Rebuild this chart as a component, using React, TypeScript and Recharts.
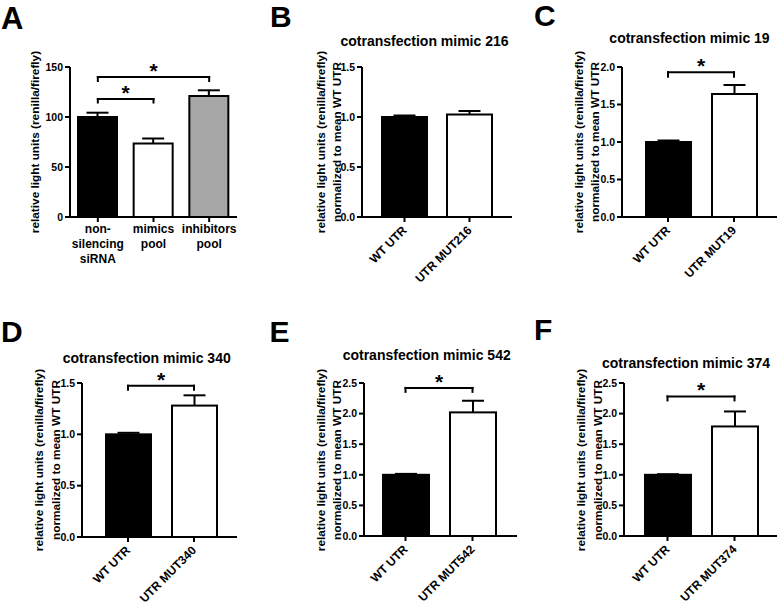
import React from 'react';
import { BarChart, Bar, XAxis, YAxis, Cell, ReferenceLine } from 'recharts';

const FONT = '"Liberation Sans", Arial, Helvetica, sans-serif';

// panel A
const categoriesA = ['non-silencing siRNA', 'mimics pool', 'inhibitors pool'];
const tickLinesA = [['non-', 'silencing', 'siRNA'], ['mimics', 'pool'], ['inhibitors', 'pool']];
const valuesA = [100, 73.5, 121];
const errorsA = [4.3, 5, 5.7];
const fillsA = ['#000000', '#ffffff', '#a6a6a6'];
const ticksA = [0, 50, 100, 150];

// panels B-F
const fillsWT = ['#000000', '#ffffff'];
const categoriesB = ['WT UTR', 'UTR MUT216'];
const valuesB = [1.0, 1.025];
const errorsB = [0.015, 0.035];
const categoriesC = ['WT UTR', 'UTR MUT19'];
const valuesC = [1.0, 1.64];
const errorsC = [0.02, 0.12];
const categoriesD = ['WT UTR', 'UTR MUT340'];
const valuesD = [1.0, 1.28];
const errorsD = [0.015, 0.1];
const categoriesE = ['WT UTR', 'UTR MUT542'];
const valuesE = [1.0, 2.02];
const errorsE = [0.015, 0.19];
const categoriesF = ['WT UTR', 'UTR MUT374'];
const valuesF = [1.0, 1.79];
const errorsF = [0.01, 0.245];

const ticks15 = [0, 0.5, 1.0, 1.5];
const ticks20 = [0, 0.5, 1.0, 1.5, 2.0];
const ticks25 = [0, 0.5, 1.0, 1.5, 2.0, 2.5];

interface Bracket { from: string; to: string; y: number; drop: number }

const bracketsA: Bracket[] = [
  { from: categoriesA[0], to: categoriesA[1], y: 118, drop: 3.5 },
  { from: categoriesA[0], to: categoriesA[2], y: 140, drop: 4 },
];
const bracketsC: Bracket[] = [{ from: categoriesC[0], to: categoriesC[1], y: 1.93, drop: 0.06 }];
const bracketsD: Bracket[] = [{ from: categoriesD[0], to: categoriesD[1], y: 1.474, drop: 0.04 }];
const bracketsE: Bracket[] = [{ from: categoriesE[0], to: categoriesE[1], y: 2.42, drop: 0.065 }];
const bracketsF: Bracket[] = [{ from: categoriesF[0], to: categoriesF[1], y: 2.28, drop: 0.065 }];

const makeRows = (cats: string[], vals: number[], errs: number[], fills: string[]) =>
  cats.map((name, i) => ({ name, value: vals[i], err: errs[i], fill: fills[i] }));

// bar outline plus an upward-only error bar (SEM) with a cap
const BarWithError = (props: any) => {
  const { x, y, width, height, payload } = props;
  const pxPerUnit = payload.value ? height / payload.value : 0;
  const top = y - payload.err * pxPerUnit;
  const cx = x + width / 2;
  return (
    <g>
      <line x1={cx} y1={y} x2={cx} y2={top} stroke="#000" strokeWidth={2} />
      <line x1={cx - 11} y1={top} x2={cx + 11} y2={top} stroke="#000" strokeWidth={2} />
      <rect x={x} y={y} width={width} height={height} fill={payload.fill} stroke="#000" strokeWidth={2} />
    </g>
  );
};

const MultiLineTick = ({ x, y, payload }: any) => {
  const idx = categoriesA.indexOf(payload.value);
  const lines = tickLinesA[idx] || [payload.value];
  return (
    <text x={x} y={y} textAnchor="middle" fontSize={12} fontWeight={700} fontFamily={FONT} fill="#000">
      {lines.map((l, i) => (
        <tspan key={i} x={x} y={y + 9 + i * 15}>{l}</tspan>
      ))}
    </text>
  );
};

const SlantTick = ({ x, y, payload }: any) => (
  <g transform={`translate(${x + 3},${y + 7})`}>
    <text transform="rotate(-45)" textAnchor="end" fontSize={12} fontWeight={700} fontFamily={FONT} fill="#000">
      {payload.value}
    </text>
  </g>
);

interface PanelProps {
  box: [number, number, number, number];
  plot: [number, number, number, number];
  padding: [number, number];
  barSize: number;
  rows: any[];
  max: number;
  ticks: number[];
  decimals: number;
  brackets: Bracket[];
  tick: any;
}

function Panel({ box, plot, padding, barSize, rows, max, ticks, decimals, brackets, tick }: PanelProps) {
  const [left, top, width, height] = box;
  const [x0, y0, x1, y1] = plot;
  const axisStyle = { stroke: '#000', strokeWidth: 2 };
  const seg = { stroke: '#000', strokeWidth: 2, strokeLinecap: 'square' as const };
  return (
    <div style={{ position: 'absolute', left, top }}>
      <BarChart
        width={width}
        height={height}
        data={rows}
        margin={{ top: y0 - top, right: left + width - x1, bottom: 0, left: 0 }}
      >
        <XAxis
          dataKey="name"
          interval={0}
          height={top + height - y1}
          padding={{ left: padding[0], right: padding[1] }}
          axisLine={axisStyle}
          tickLine={axisStyle}
          tickSize={5}
          tick={tick}
        />
        <YAxis
          width={x0 - left}
          domain={[0, max]}
          ticks={ticks}
          interval={0}
          tickFormatter={(v: number) => v.toFixed(decimals)}
          axisLine={axisStyle}
          tickLine={axisStyle}
          tickSize={5}
          tickMargin={2}
          tick={{ fill: '#000', fontSize: 10.5, fontWeight: 700, fontFamily: FONT }}
        />
        <Bar dataKey="value" barSize={barSize} isAnimationActive={false} shape={<BarWithError />}>
          {rows.map((r, i) => (
            <Cell key={i} fill={r.fill} />
          ))}
        </Bar>
        {brackets.map((b, i) => (
          <ReferenceLine
            key={`h${i}`}
            segment={[{ x: b.from, y: b.y }, { x: b.to, y: b.y }]}
            {...seg}
            label={{ value: '*', position: 'top', offset: -1, fontSize: 21, fontWeight: 700, fill: '#000', fontFamily: FONT }}
          />
        ))}
        {brackets.map((b, i) => (
          <ReferenceLine key={`l${i}`} segment={[{ x: b.from, y: b.y }, { x: b.from, y: b.y - b.drop }]} {...seg} />
        ))}
        {brackets.map((b, i) => (
          <ReferenceLine key={`r${i}`} segment={[{ x: b.to, y: b.y }, { x: b.to, y: b.y - b.drop }]} {...seg} />
        ))}
      </BarChart>
    </div>
  );
}

const yLine1 = 'relative light units (renilla/firefly)';
const yLine2 = 'normalized to mean WT UTR';

const YLabel = ({ x, y, text }: { x: number; y: number; text: string }) => (
  <text x={x} y={y} transform={`rotate(-90 ${x} ${y})`} textAnchor="middle" fontSize={11.8} fontWeight={700} fontFamily={FONT} fill="#000">
    {text}
  </text>
);

const Title = ({ x, y, text }: { x: number; y: number; text: string }) => (
  <text x={x} y={y} textAnchor="middle" fontSize={14} fontWeight={700} fontFamily={FONT} fill="#000">
    {text}
  </text>
);

const Letter = ({ x, y, text, size = 30 }: { x: number; y: number; text: string; size?: number }) => (
  <text x={x} y={y} fontSize={size} fontWeight={700} fontFamily={FONT} fill="#000">
    {text}
  </text>
);

export default function App() {
  return (
    <div style={{ position: 'absolute', left: 0, top: 0, width: 778, height: 605, background: '#fff', overflow: 'hidden' }}>
      <Panel box={[0, 0, 240, 300]} plot={[70, 67, 237, 217]} padding={[0, 0]} barSize={39}
        rows={makeRows(categoriesA, valuesA, errorsA, fillsA)} max={150} ticks={ticksA} decimals={0}
        brackets={bracketsA} tick={<MultiLineTick />} />
      <Panel box={[260, 0, 255, 300]} plot={[362, 67, 512, 217]} padding={[10, 10]} barSize={45}
        rows={makeRows(categoriesB, valuesB, errorsB, fillsWT)} max={1.5} ticks={ticks15} decimals={1}
        brackets={[]} tick={<SlantTick />} />
      <Panel box={[518, 0, 260, 300]} plot={[622, 67, 777, 217]} padding={[13, 10]} barSize={45}
        rows={makeRows(categoriesC, valuesC, errorsC, fillsWT)} max={2} ticks={ticks20} decimals={1}
        brackets={bracketsC} tick={<SlantTick />} />
      <Panel box={[0, 300, 240, 305]} plot={[82, 383, 237, 537]} padding={[13, 10]} barSize={45}
        rows={makeRows(categoriesD, valuesD, errorsD, fillsWT)} max={1.5} ticks={ticks15} decimals={1}
        brackets={bracketsD} tick={<SlantTick />} />
      <Panel box={[260, 300, 258, 305]} plot={[364, 383, 517, 536]} padding={[8, 11]} barSize={46}
        rows={makeRows(categoriesE, valuesE, errorsE, fillsWT)} max={2.5} ticks={ticks25} decimals={1}
        brackets={bracketsE} tick={<SlantTick />} />
      <Panel box={[518, 300, 260, 305]} plot={[624, 383, 777, 536]} padding={[10, 9]} barSize={46}
        rows={makeRows(categoriesF, valuesF, errorsF, fillsWT)} max={2.5} ticks={ticks25} decimals={1}
        brackets={bracketsF} tick={<SlantTick />} />

      <svg width={778} height={605} style={{ position: 'absolute', left: 0, top: 0, pointerEvents: 'none' }}>
        <Letter x={1} y={28.5} text="A" size={31} />
        <Letter x={270} y={26.5} text="B" />
        <Letter x={534} y={26} text="C" />
        <Letter x={1} y={342} text="D" />
        <Letter x={269.5} y={341.5} text="E" />
        <Letter x={534} y={340} text="F" />

        <Title x={424.5} y={45.5} text="cotransfection mimic 216" />
        <Title x={689.5} y={43} text="cotransfection mimic 19" />
        <Title x={146.7} y={363} text="cotransfection mimic 340" />
        <Title x={426.7} y={360} text="cotransfection mimic 542" />
        <Title x={686} y={368} text="cotransfection mimic 374" />

        <YLabel x={38.5} y={142} text={yLine1} />
        <YLabel x={324.5} y={142} text={yLine1} />
        <YLabel x={341} y={142} text={yLine2} />
        <YLabel x={582.5} y={142} text={yLine1} />
        <YLabel x={599} y={142} text={yLine2} />
        <YLabel x={42.5} y={460} text={yLine1} />
        <YLabel x={59.5} y={460} text={yLine2} />
        <YLabel x={324.5} y={460} text={yLine1} />
        <YLabel x={341} y={460} text={yLine2} />
        <YLabel x={584.5} y={460} text={yLine1} />
        <YLabel x={601.5} y={460} text={yLine2} />
      </svg>
    </div>
  );
}
